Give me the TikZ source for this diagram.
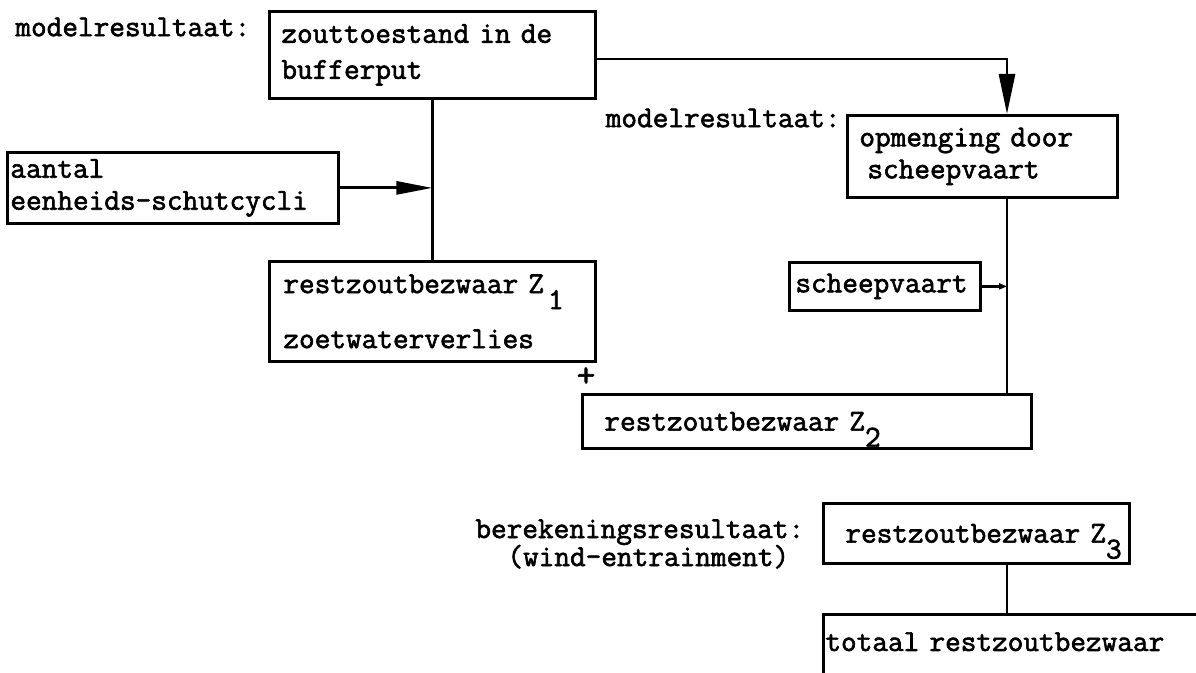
\documentclass[tikz,border=0pt]{standalone}
\usepackage{fontspec}
\usetikzlibrary{arrows.meta}
\newfontfamily\tw[FakeBold=2]{Latin Modern Mono}
\newcommand\zsub[1]{\raisebox{-8pt}[0pt][0pt]{#1}}
\begin{document}
\begin{tikzpicture}[x=0.5pt,y=-0.5pt,
  every node/.style={font={\tw\fontsize{15.2}{16}\selectfont}, inner sep=0pt},
  box/.style={draw, line width=1.4pt, inner xsep=0pt, inner ysep=0pt, anchor=north west, align=left},
  conn/.style={line width=1.4pt},
  bigtip/.style={-{Triangle[length=18pt,width=6.5pt]}},
  toptip/.style={-{Triangle[length=20pt,width=8pt]}},
  smalltip/.style={-{Triangle[length=4pt,width=3pt]}}]
\useasboundingbox (0,0) rectangle (1196,673);
\clip (0,0) rectangle (1196,673);
% boxes
\node[box, text width=163pt, minimum height=43.5pt] (A) at (268,10)
  {\hspace*{6pt}zouttoestand in de\\[2pt]\hspace*{6pt}bufferput};
\node[box, text width=165.5pt, minimum height=35.5pt] (B) at (6,151)
  {\hspace*{1.5pt}aantal\\\hspace*{1.5pt}eenheids-schutcycli};
\node[box, text width=163pt, minimum height=50pt] (Z1) at (268,260)
  {\hspace*{7pt}restzoutbezwaar Z\hspace{2pt}\zsub{1}\\[11.5pt]\hspace*{7pt}zoetwaterverlies};
\node[box, text width=135pt, minimum height=41pt] (O) at (846,114)
  {\hspace*{6pt}opmenging door\\\hspace*{10pt}scheepvaart};
\node[box, text width=95.5pt, minimum height=24pt] (S) at (788,261)
  {\hspace*{3pt}scheepvaart};
\node[box, text width=224.5pt, minimum height=27pt] (Z2) at (581,393)
  {\hspace*{11pt}restzoutbezwaar Z\zsub{2}};
\node[box, text width=153pt, minimum height=30pt] (Z3) at (822,502)
  {\hspace*{11pt}restzoutbezwaar Z\zsub{3}};
\node[box, text width=215pt, inner ysep=9pt, text depth=60pt] (T) at (822,613)
  {\hspace*{1pt}totaal restzoutbezwaar};
% labels
\node[anchor=west] (L1) at (15,27) {modelresultaat:};
\node[anchor=east] (L2) at (841,118) {modelresultaat:};
\node[anchor=west, align=left] (L3) at (475,544)
  {berekeningsresultaat:\\[-2pt]\hspace*{16pt}(wind-entrainment)};
\node[font={\tw\fontsize{18}{18}\selectfont}] (P) at (586,377) {+};
% connectors
\coordinate (c1) at (1007,59);
\draw[conn] (A.south) -- (Z1.north);
\draw[conn, bigtip] (B.east) -- (B.east -| A.south);
\draw[conn, toptip] (A.east |- c1) -- (c1) -- (c1 |- O.north);
\draw[conn] (O.south -| c1) -- (Z2.north -| c1);
\draw[conn, smalltip] (S.east) -- (S.east -| c1);
\draw[conn] (Z3.south -| c1) -- (T.north -| c1);
\end{tikzpicture}
\end{document}
